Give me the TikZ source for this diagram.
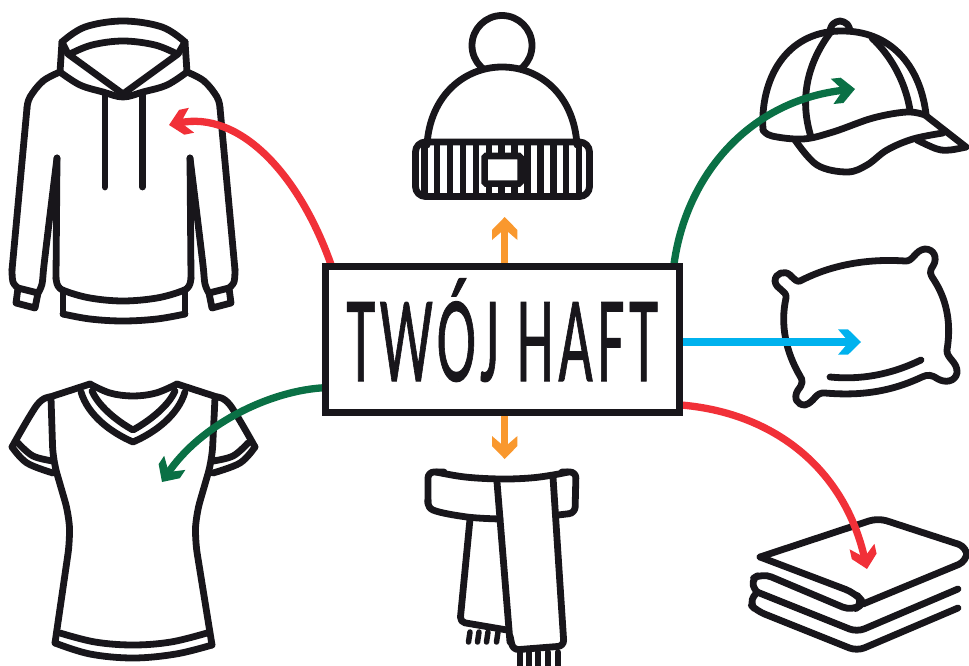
\documentclass[tikz,border=0pt]{standalone}
\usepackage{fontspec}
\setmainfont[LetterSpace=8,FakeBold=1]{Carlito}
\usetikzlibrary{arrows.meta, backgrounds}
\definecolor{ink}{RGB}{24, 22, 27}
\definecolor{flowred}{RGB}{241, 48, 56}
\definecolor{flowgreen}{RGB}{10, 112, 69}
\definecolor{flowblue}{RGB}{0, 178, 238}
\definecolor{floworange}{RGB}{249, 152, 46}
\pgfdeclarearrow{
  name=chevron,
  setup code={
    \pgfarrowssettipend{0pt}
    \pgfarrowssetlineend{-10pt}
    \pgfarrowssetvisualbackend{-23pt}
    \pgfarrowssetbackend{-23pt}
  },
  drawing code={
    \pgfpathmoveto{\pgfqpoint{0pt}{0pt}}
    \pgfpathlineto{\pgfqpoint{-13pt}{12.7pt}}
    \pgfpathlineto{\pgfqpoint{-23pt}{12.7pt}}
    \pgfpathlineto{\pgfqpoint{-12pt}{0pt}}
    \pgfpathlineto{\pgfqpoint{-23pt}{-12.7pt}}
    \pgfpathlineto{\pgfqpoint{-13pt}{-12.7pt}}
    \pgfpathclose
    \pgfusepathqfill
  }
}

\begin{document}
\begin{tikzpicture}[
                x=1pt, y=-1pt,
                outline/.style={draw=ink, line width=6.8pt, line cap=round, line join=round},
                soft/.style={smooth, tension=0.6},
                rib/.style={draw=ink, line width=6.5pt},
                hubbox/.style={rectangle, draw=ink, fill=white, line width=7pt,
                    minimum width=353.5pt, minimum height=146pt, inner sep=0pt,
                    text=ink, text height=83pt, text depth=0pt, align=center,
                    font=\fontsize{122.7}{123}\selectfont},
                flow/.style={-{chevron}, line width=7.3pt, shorten <=-4pt}
                ]
                \useasboundingbox (0,0) rectangle (969,666);
                \node[hubbox] (haft) at (502.3,339.5) {\scalebox{.482}[1]{TWÓJ HAFT}};

                \coordinate (hoodie) at (169,125);
                \coordinate (hat) at (504.7,217);
                \coordinate (cap) at (855,89);
                \coordinate (pillow) at (861,342);
                \coordinate (tee) at (162,482);
                \coordinate (scarf) at (504.7,459);
                \coordinate (towels) at (867,569);

                \begin{scope}[on background layer]
                % hoodie
                \draw[outline] plot[soft] coordinates {(62,42) (85,27) (123,21) (162,27) (185,42)};
                \draw[outline] plot[soft] coordinates {(70,54) (92,45) (123,41) (155,45) (177,54)};
                \draw[outline] (62,42) -- (60,72) (185,42) -- (187,72);
                \draw[outline] (62,42) -- (68,54) -- (123,94) -- (178,54) -- (185,42);
                \draw[outline] plot[soft] coordinates {(60,72) (80,85) (103,92) (123,97) (143,92) (167,85) (187,72)};
                \draw[outline] (105,93) -- (105,187) (142.5,93) -- (142.5,187);
                \draw[outline] plot[soft] coordinates {(60,72) (43,81) (30,97) (27,108)};
                \draw[outline] (27,108) -- (12,270);
                \draw[outline] plot[soft] coordinates {(12,270) (13,282) (18,288)};
                \draw[outline] (18,288) -- (38,293) -- (35,308) -- (16,303) -- cycle;
                \draw[outline] plot[soft] coordinates {(38,293) (42,284) (44,265) (50,215) (57,158)};
                \draw[outline] (57,158) -- (56,278);
                \draw[outline] plot[soft] coordinates {(56,278) (58,286) (65,291) (90,298) (123,301) (157,298) (182,291) (189,286) (191,278)};
                \draw[outline] (191,278) -- (190,158);
                \draw[outline] plot[soft] coordinates {(190,158) (197,215) (203,265) (205,284) (209,293)};
                \draw[outline] (209,293) -- (229,288) -- (231,303) -- (212,308) -- cycle;
                \draw[outline] plot[soft] coordinates {(229,288) (234,282) (235,270)};
                \draw[outline] (235,270) -- (220,108);
                \draw[outline] plot[soft] coordinates {(220,108) (217,97) (204,81) (187,72)};
                \draw[outline] (63,292) -- (63,314) (185,292) -- (185,314);
                \draw[outline] plot[soft] coordinates {(63,314) (90,319) (123,321) (157,319) (185,314)};
                % hat
                \draw[outline] (502,45.5) circle (30);
                \draw[outline, fill=white] (427,145) .. controls (430,95) and (465,67) .. (502,67)
                    .. controls (540,67) and (574,95) .. (577,145);
                \foreach \k in {-6,...,6} {
                    \draw[rib] (501.7+12.9*\k,142) -- (501.7+12.9*\k,196.5);
                }
                \draw[outline, rounded corners=10pt] (415.5,142) rectangle (589.5,196.5);
                \draw[rib, fill=white, rounded corners=1.5pt] (484.5,156) rectangle (520.5,183.5);
                % cap
                \draw[outline] plot[soft] coordinates {(830,30) (833,24) (840,21) (847,24) (850,30)};
                \draw[outline] (763,130) .. controls (760,80) and (785,32) .. (840,31)
                    .. controls (890,30) and (920,65) .. (926,114);
                \draw[outline] (830,33) .. controls (810,60) and (798,95) .. (811,137);
                \draw[outline] (872,38) .. controls (890,55) and (905,80) .. (910,110);
                \draw[outline] plot[soft] coordinates {(763,130) (772,136) (803,139) (833,132) (873,118) (907,112) (925,115)};
                \draw[outline] (925,115) -- (966,147);
                \draw[outline] plot[soft] coordinates {(795,140) (817,165) (847,172) (867,165) (887,150) (913,139) (943,133)};
                \draw[outline] plot[soft] coordinates {(917,140) (937,149) (950,150) (966,147)};
                % pillow
                \draw[outline] (800,281) .. controls (825,268) and (860,258) .. (905,261)
                    .. controls (913,262) and (915,250) .. (925,249)
                    .. controls (934,249) and (938,258) .. (933,266)
                    .. controls (929,272) and (930,274) .. (934,280)
                    .. controls (945,297) and (952,320) .. (947,350)
                    .. controls (946,358) and (958,362) .. (957,373)
                    .. controls (955,382) and (945,383) .. (938,379)
                    .. controls (932,375) and (928,374) .. (922,377)
                    .. controls (890,392) and (860,396) .. (825,393)
                    .. controls (815,392) and (815,402) .. (805,405)
                    .. controls (797,405) and (793,398) .. (798,390)
                    .. controls (803,384) and (803,380) .. (800,376)
                    .. controls (786,352) and (780,325) .. (786,298)
                    .. controls (787,290) and (776,290) .. (775,281)
                    .. controls (775,273) and (785,270) .. (790,275)
                    .. controls (795,280) and (797,282) .. (800,281) -- cycle;
                \draw[outline] (830,377) .. controls (860,380) and (890,375) .. (921,360);
                % tee
                \draw[outline] (90,384) -- (50,397) (177,384) -- (217,397);
                \draw[outline] plot[soft] coordinates {(50,397) (37,405) (12,447)};
                \draw[outline] plot[soft] coordinates {(12,447) (27,463) (53,473)};
                \draw[outline] plot[soft] coordinates {(18,443) (33,456) (53,461)};
                \draw[outline] plot[soft] coordinates {(217,397) (230,405) (255,447)};
                \draw[outline] plot[soft] coordinates {(255,447) (240,463) (213,473)};
                \draw[outline] plot[soft] coordinates {(248,443) (233,456) (213,461)};
                \draw[outline, rounded corners=14pt] (51,398) -- (53,460) -- (69,515) -- (70,540) -- (55,643);
                \draw[outline, rounded corners=14pt] (215,398) -- (212,460) -- (196,515) -- (195,540) -- (212,645);
                \draw[outline] plot[soft] coordinates {(55,643) (90,654) (133,658) (176,654) (212,645)};
                \draw[outline] plot[soft] coordinates {(60,633) (95,642) (133,645) (171,642) (207,633)};
                \draw[outline] plot[soft] coordinates {(90,384) (110,393) (133,396) (156,393) (177,384)};
                \draw[outline] (81,392) .. controls (88,415) and (110,432) .. (133,442)
                    .. controls (156,432) and (178,415) .. (185,392);
                \draw[outline] (92,391) .. controls (98,405) and (115,420) .. (133,430)
                    .. controls (151,420) and (169,405) .. (175,391);
                % scarf
                \draw[outline, rounded corners=6pt] (428,503) -- (428,472) -- (444,472);
                \draw[outline] plot[soft] coordinates {(436,472) (465,477) (500,479) (530,478) (553,475) (568,472)};
                \draw[outline, rounded corners=6pt] (562,472) -- (576,472) -- (575,513) -- (558,515);
                \draw[outline] plot[soft] coordinates {(428,500) (433,510) (467,517) (500,519)};
                \draw[outline] (497,482) -- (510,642);
                \draw[outline, rounded corners=6pt] (510,636) -- (513,650) -- (564,646) -- (553,477);
                \draw[outline, rounded corners=5pt] (470,519) -- (460,622) -- (507,630);
                \foreach \fx in {470,479,488,498} {
                    \draw[outline, line width=5.5pt] (\fx,632) -- (\fx-1.5,642);
                }
                \foreach \fx in {520,529,538,548,558} {
                    \draw[outline, line width=5.5pt] (\fx,652) -- (\fx,668);
                }
                % towels
                \draw[outline, rounded corners=9pt] (760,557) -- (878,518) -- (967,547) -- (967,561) -- (863,604);
                \draw[outline, rounded corners=10pt] (760,557) -- (855,593) -- (864,603) -- (852,611) -- (762,573) -- (749,581) -- (757,592);
                \draw[outline, rounded corners=8pt] (757,592) -- (857,632) -- (958,589);
                \draw[outline, rounded corners=8pt] (757,592) -- (749,603) -- (757,611) -- (857,651) -- (958,608);
                % arrows
                \draw[flow, flowred] (haft.156) .. controls (300,175) and (240,110) .. (hoodie);
                \draw[flow, floworange] (haft.north -| hat) -- (hat);
                \draw[flow, flowgreen] (haft.24.5) .. controls (685,175) and (750,100) .. (cap);
                \draw[flow, flowblue] (haft.east |- pillow) -- (pillow);
                \draw[flow, flowgreen] (haft.195) .. controls (270,390) and (200,425) .. (tee);
                \draw[flow, floworange] (haft.south -| scarf) -- (scarf);
                \draw[flow, flowred] (haft.-20) .. controls (775,412) and (845,470) .. (towels);
                \end{scope}
            \end{tikzpicture}
\end{document}
